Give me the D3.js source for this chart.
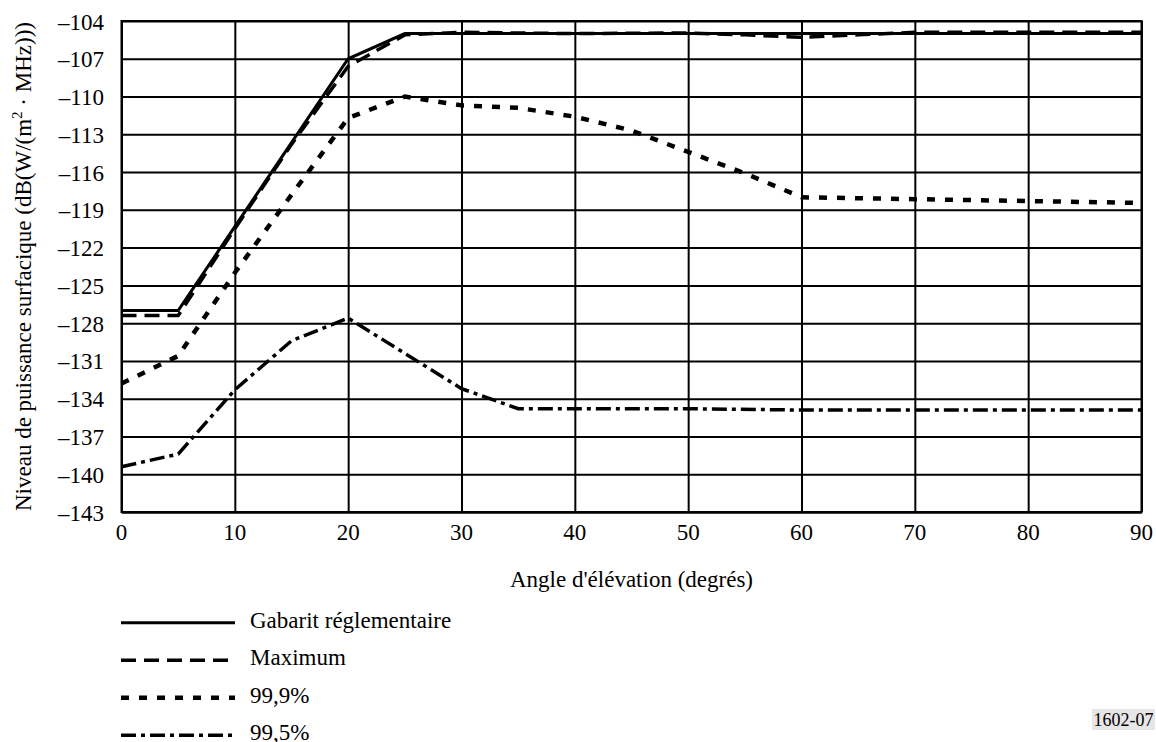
<!DOCTYPE html>
<meta charset="utf-8"/>
<style>
  html, body { margin: 0; padding: 0; background: #fff; }
  .grid line, .grid path { stroke: #000; stroke-width: 2px; }
</style>
<body>
<svg width="1156" height="742"></svg>
</body>
<script src="https://d3js.org/d3.v7.min.js"></script>
<script>

  // angles (degrees) and levels
  var angleGabarit = [0, 5, 20, 25, 90]
  var gabarit = [-127, -127, -107, -105, -105]

  var angleMax = [0, 5, 10, 15, 20, 25, 30, 40, 50, 55, 60, 65, 70, 80, 90]
  var maximum = [-127.4, -127.4, -120.5, -113.8, -107.6, -105.1, -104.9, -105, -104.95, -105.1, -105.3, -105.1, -104.9, -104.9, -104.9]

  var angle999 = [0, 5, 10, 15, 20, 25, 30, 35, 40, 45, 50, 55, 60, 70, 80, 90]
  var p999 = [-132.8, -130.6, -124.0, -117.8, -111.7, -110.0, -110.7, -110.9, -111.6, -112.7, -114.4, -116.1, -118.0, -118.15, -118.3, -118.45]

  var angle995 = [0, 5, 10, 15, 20, 25, 30, 35, 50, 60, 70, 80, 90]
  var p995 = [-139.4, -138.4, -133.3, -129.4, -127.6, -130.4, -133.2, -134.8, -134.8, -134.9, -134.9, -134.9, -134.9]

  var xTicks = [0, 10, 20, 30, 40, 50, 60, 70, 80, 90]
  var yTicks = d3.range(-143, -103, 3)

  var legendLabels = ["Gabarit réglementaire", "Maximum", "99,9%", "99,5%"]

  var FONT = "'Liberation Serif', 'Times New Roman', Times, 'DejaVu Serif', serif"

  var svg = d3.select("svg").style("font-family", FONT)
  var mLeft = 121.5, mRight = 1141.5, mTop = 21, mBottom = 512

  var x = d3.scaleLinear().domain([0, 90]).range([mLeft, mRight])
  var y = d3.scaleLinear().domain([-143, -104]).range([mBottom, mTop])

  var minus = function (d) { return d < 0 ? "\u2013" + Math.abs(d) : String(d) }

  // grid lines through the axes
  svg.append("g")
    .attr("class", "grid")
    .attr("transform", "translate(0," + mBottom + ")")
    .call(d3.axisBottom(x).tickValues(xTicks).tickSize(-(mBottom - mTop)).tickSizeOuter(0).tickFormat(""))
  svg.append("g")
    .attr("class", "grid")
    .attr("transform", "translate(" + mLeft + ",0)")
    .call(d3.axisLeft(y).tickValues(yTicks).tickSize(-(mRight - mLeft)).tickSizeOuter(0).tickFormat(""))

  svg.append("rect")
    .attr("x", mLeft).attr("y", mTop)
    .attr("width", mRight - mLeft).attr("height", mBottom - mTop)
    .attr("fill", "none").attr("stroke", "#000").attr("stroke-width", 2)

  // tick labels
  svg.append("g").selectAll("text")
    .data(yTicks)
    .enter().append("text")
    .attr("x", 104)
    .attr("y", function (d) { return y(d) + 8.5 })
    .attr("text-anchor", "end")
    .style("font-family", FONT)
    .style("font-size", "23px")
    .text(minus)

  svg.append("g").selectAll("text")
    .data(xTicks)
    .enter().append("text")
    .attr("x", function (d) { return x(d) })
    .attr("y", 540)
    .attr("text-anchor", "middle")
    .style("font-family", FONT)
    .style("font-size", "23px")
    .text(function (d) { return d })

  svg.append("text")
    .attr("x", (mLeft + mRight) / 2)
    .attr("y", 587)
    .attr("text-anchor", "middle")
    .style("font-family", FONT)
    .style("font-size", "23px")
    .text("Angle d'élévation (degrés)")

  var ylab = svg.append("text")
    .attr("transform", "translate(31," + ((mTop + mBottom) / 2) + ") rotate(-90)")
    .attr("text-anchor", "middle")
    .style("font-family", FONT)
    .style("font-size", "23px")
  ylab.append("tspan").text("Niveau de puissance surfacique (dB(W/(m")
  ylab.append("tspan").attr("dy", -9).style("font-size", "15px").text("2")
  ylab.append("tspan").attr("dy", 9).text(" · MHz)))")

  // series
  var series = [
    { xs: angleGabarit, ys: gabarit, dash: null, w: 3 },
    { xs: angleMax, ys: maximum, dash: "15,8", w: 3.5 },
    { xs: angle999, ys: p999, dash: "8,10", w: 4.5 },
    { xs: angle995, ys: p995, dash: "15,5,4,5", w: 3.5 }
  ]

  var line = d3.line()
    .x(function (d) { return x(d[0]) })
    .y(function (d) { return y(d[1]) })

  series.forEach(function (s) {
    svg.append("path")
      .datum(d3.zip(s.xs, s.ys))
      .attr("d", line)
      .attr("fill", "none")
      .attr("stroke", "#000")
      .attr("stroke-width", s.w)
      .attr("stroke-dasharray", s.dash)
  })

  // legend
  var leg = svg.append("g").selectAll("g")
    .data(series)
    .enter().append("g")
    .attr("transform", function (d, i) { return "translate(0," + (622.7 + i * 37.5) + ")" })

  leg.append("line")
    .attr("x1", 121).attr("x2", 235)
    .attr("stroke", "#000")
    .attr("stroke-width", function (d) { return d.w })
    .attr("stroke-dasharray", function (d) { return d.dash })

  leg.append("text")
    .attr("x", 250).attr("y", 5)
    .style("font-family", FONT)
    .style("font-size", "23px")
    .text(function (d, i) { return legendLabels[i] })

  // figure number
  svg.append("rect")
    .attr("x", 1092).attr("y", 709).attr("width", 63).attr("height", 21)
    .attr("fill", "#e6e6e6")
  svg.append("text")
    .attr("x", 1123.5).attr("y", 726)
    .attr("text-anchor", "middle")
    .style("font-family", FONT)
    .style("font-size", "18px")
    .text("1602-07")

</script>
